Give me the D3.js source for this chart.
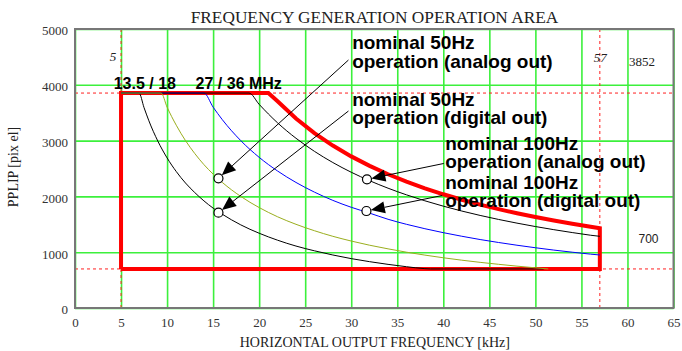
<!DOCTYPE html>
<html>
<head>
<meta charset="utf-8">
<script src="https://cdn.jsdelivr.net/npm/d3@7"></script>
<style>
  body { margin: 0; background: #fff; }
  svg { display: block; }
</style>
</head>
<body>
<svg id="chart" width="682" height="351"></svg>
<script>
// Horizontal output frequency (kHz) against pixels per line for four pixel clocks.
const xTickValues = [0, 5, 10, 15, 20, 25, 30, 35, 40, 45, 50, 55, 60, 65];
const yTickValues = [0, 1000, 2000, 3000, 4000, 5000];

const freqLimits = [5, 57];      // kHz
const pixelLimits = [700, 3852]; // pixels per line
const clockLabels = ["13.5 / 18", "27 / 36 MHz"];

// 13.5 MHz clock
const curveClock13 = [[5, 3852], [6.95, 3852], [7.5, 3590], [8, 3365], [9, 2990], [10, 2690], [11, 2445],
  [12, 2240], [13, 2070], [14, 1920], [15, 1790], [16, 1680], [18, 1490], [20, 1340], [22, 1215],
  [24, 1110], [26, 1025], [28, 950], [30, 885], [32, 830], [34, 782], [36, 740], [38, 705],
  [38.6, 700], [50.9, 700]];
// 18 MHz clock
const curveClock18 = [[5, 3852], [9.35, 3852], [10, 3600], [11, 3275], [12, 3000], [13, 2770], [14, 2570],
  [15, 2400], [16, 2250], [18, 2000], [20, 1800], [22, 1635], [24, 1500], [26, 1385], [28, 1285],
  [30, 1200], [32, 1125], [34, 1060], [36, 1000], [38, 948], [40, 900], [42, 857], [44, 818],
  [46, 783], [48, 750], [50, 720], [51.4, 700]];
// 27 MHz clock
const curveClock27 = [[5, 3852], [14.0, 3852], [15, 3600], [16, 3375], [18, 3000], [20, 2700], [22, 2455],
  [24, 2250], [26, 2077], [28, 1929], [30, 1805], [32, 1700], [34, 1590], [36, 1500], [38, 1421],
  [40, 1350], [42, 1286], [44, 1227], [46, 1174], [48, 1125], [50, 1080], [52, 1038], [54, 1000],
  [56, 965], [57, 950]];
// 36 MHz clock
const curveClock36 = [[5, 3852], [18.9, 3852], [20, 3650], [22, 3318], [24, 3042], [26, 2808], [28, 2607],
  [30, 2433], [32, 2281], [34, 2147], [36, 2028], [38, 1921], [40, 1825], [42, 1738], [44, 1659],
  [46, 1587], [48, 1521], [50, 1460], [52, 1404], [54, 1352], [56, 1304], [57, 1285]];

// Boundary of the permitted operation area
const operationArea = [[5, 700], [5, 3852], [21, 3852], [22, 3705], [24, 3396], [26, 3135], [28, 2911],
  [30, 2717], [32, 2547], [34, 2397], [36, 2264], [38, 2145], [40, 2038], [42, 1940], [44, 1852],
  [46, 1772], [48, 1698], [50, 1630], [52, 1567], [54, 1509], [56, 1455], [57, 1430], [57, 700], [5, 700]];

const noteTexts = [
  ["nominal 50Hz", "operation (analog out)"],
  ["nominal 50Hz", "operation (digital out)"],
  ["nominal 100Hz", "operation (analog out)"],
  ["nominal 100Hz", "operation (digital out)"]
];
const notePoints = [[15.58, 2324], [15.58, 1708], [31.71, 2306], [31.65, 1738]];

// ---- layout ----
const svg = d3.select("#chart");
const x = d3.scaleLinear().domain([0, 65]).range([75, 673.5]);
const y = d3.scaleLinear().domain([0, 5000]).range([308, 29]);
const plotH = y(0) - y(5000);

const serif = "'Liberation Serif', 'Times New Roman', serif";
const sans = "'Liberation Sans', Arial, sans-serif";
const gridColor = "#3cf03c";

// Title
svg.append("text")
  .attr("x", 374.5).attr("y", 23)
  .attr("text-anchor", "middle")
  .attr("font-family", serif).attr("font-size", 17.3)
  .attr("fill", "#222")
  .text("FREQUENCY GENERATION OPERATION AREA");

// Axes with full-height ticks acting as the grid
const xAxis = svg.append("g")
  .attr("transform", `translate(0,${y(0)})`)
  .call(d3.axisBottom(x).tickValues(xTickValues).tickSize(-plotH).tickPadding(9.5).tickFormat(d3.format("d")));
const yAxis = svg.append("g")
  .attr("transform", `translate(${x(0)},0)`)
  .call(d3.axisLeft(y).tickValues(yTickValues).tickSize(-(x(65) - x(0))).tickPadding(7).tickFormat(d3.format("d")));

[xAxis, yAxis].forEach(g => {
  g.select(".domain").remove();
  g.selectAll(".tick line").attr("stroke", gridColor).attr("stroke-width", 1.6);
  g.selectAll(".tick text")
    .attr("font-family", serif).attr("font-size", 13).attr("fill", "#333");
});
yAxis.selectAll(".tick text").attr("dy", "0.45em");

// Axis titles
svg.append("text")
  .attr("x", 374.8).attr("y", 346.5)
  .attr("text-anchor", "middle")
  .attr("font-family", serif).attr("font-size", 14).attr("fill", "#222")
  .text("HORIZONTAL OUTPUT FREQUENCY [kHz]");
svg.append("text")
  .attr("transform", "translate(18,167) rotate(-90)")
  .attr("text-anchor", "middle")
  .attr("font-family", serif).attr("font-size", 14).attr("fill", "#222")
  .text("PPLIP [pix el]");

// Dashed limit lines
const dash = svg.append("g")
  .attr("stroke", "#ff2020").attr("stroke-width", 1).attr("stroke-dasharray", "3,3").attr("fill", "none");
freqLimits.forEach(f => {
  dash.append("line").attr("x1", x(f)).attr("x2", x(f)).attr("y1", y(5000)).attr("y2", y(0));
});
pixelLimits.forEach(p => {
  dash.append("line").attr("x1", x(0)).attr("x2", x(65)).attr("y1", y(p)).attr("y2", y(p));
});

// Operation area outline
const line = d3.line().x(d => x(d[0])).y(d => y(d[1]));
svg.append("path")
  .datum(operationArea)
  .attr("d", line)
  .attr("fill", "none").attr("stroke", "#ff0000").attr("stroke-width", 4)
  .attr("stroke-linejoin", "miter");

// Clock curves
const smooth = d3.line().x(d => x(d[0])).y(d => y(d[1])).curve(d3.curveMonotoneX);
[
  [curveClock13, "#000"],
  [curveClock27, "#0000ff"],
  [curveClock36, "#000"],
  [curveClock18, "#9aae1e"]
].forEach(([pts, color]) => {
  svg.append("path").datum(pts).attr("d", smooth)
    .attr("fill", "none").attr("stroke", color).attr("stroke-width", 1);
});

// Frame
svg.append("rect")
  .attr("x", x(0)).attr("y", y(5000))
  .attr("width", x(65) - x(0)).attr("height", plotH)
  .attr("fill", "none").attr("stroke", "#777").attr("stroke-width", 2);

// Limit values
svg.append("text").attr("x", x(freqLimits[0]) - 8).attr("y", 61)
  .attr("text-anchor", "middle").attr("font-family", serif).attr("font-style", "italic")
  .attr("font-size", 13).attr("fill", "#222").text(freqLimits[0]);
svg.append("text").attr("x", x(freqLimits[1]) + 0.5).attr("y", 61.5)
  .attr("text-anchor", "middle").attr("font-family", serif).attr("font-style", "italic")
  .attr("font-size", 13).attr("fill", "#222").text(freqLimits[1]);
svg.append("text").attr("x", x(60) + 1.5).attr("y", y(pixelLimits[1]) - 27)
  .attr("font-family", serif).attr("font-size", 13).attr("fill", "#222").text(pixelLimits[1]);
svg.append("text").attr("x", x(61.2)).attr("y", y(pixelLimits[0]) - 26)
  .attr("font-family", sans).attr("font-size", 12).attr("fill", "#222").text(pixelLimits[0]);

// Clock labels
svg.append("text").attr("x", x(4.2)).attr("y", y(pixelLimits[1]) - 4)
  .attr("font-family", sans).attr("font-weight", "bold").attr("font-size", 16).attr("fill", "#000")
  .text(clockLabels[0]);
svg.append("text").attr("x", x(13.1)).attr("y", y(pixelLimits[1]) - 4)
  .attr("font-family", sans).attr("font-weight", "bold").attr("font-size", 16).attr("fill", "#000")
  .text(clockLabels[1]);

// Annotations: text anchors and arrow tails in data units
const noteAnchors = [[30.1, 4633], [30.1, 3629], [40.2, 2832], [40.2, 2133]];
const noteTails = [[29.7, 4444], [29.7, 3530], [40.05, 2590], [39.87, 2016]];
const r = 4.5, headLen = 14, headHalf = 6;

notePoints.forEach((pt, i) => {
  const cx = x(pt[0]), cy = y(pt[1]);
  const tx = x(noteTails[i][0]), ty = y(noteTails[i][1]);
  const dx = tx - cx, dy = ty - cy, len = Math.hypot(dx, dy);
  const ux = dx / len, uy = dy / len;
  const tipX = cx + ux * r, tipY = cy + uy * r;
  const baseX = tipX + ux * headLen, baseY = tipY + uy * headLen;
  svg.append("line").attr("x1", tx).attr("y1", ty).attr("x2", baseX).attr("y2", baseY)
    .attr("stroke", "#000").attr("stroke-width", 1);
  svg.append("path")
    .attr("d", `M${tipX},${tipY}L${baseX - uy * headHalf},${baseY + ux * headHalf}L${baseX + uy * headHalf},${baseY - ux * headHalf}Z`)
    .attr("fill", "#000");
  svg.append("circle").attr("cx", cx).attr("cy", cy).attr("r", r)
    .attr("fill", "#fff").attr("stroke", "#000").attr("stroke-width", 1.2);
});

noteTexts.forEach((lines, i) => {
  const t = svg.append("text")
    .attr("x", x(noteAnchors[i][0])).attr("y", y(noteAnchors[i][1]))
    .attr("font-family", sans).attr("font-weight", "bold").attr("font-size", 19).attr("fill", "#000");
  lines.forEach((s, j) => {
    t.append("tspan").attr("x", x(noteAnchors[i][0])).attr("dy", j === 0 ? 0 : 18.3).text(s);
  });
});
</script>
</body>
</html>
